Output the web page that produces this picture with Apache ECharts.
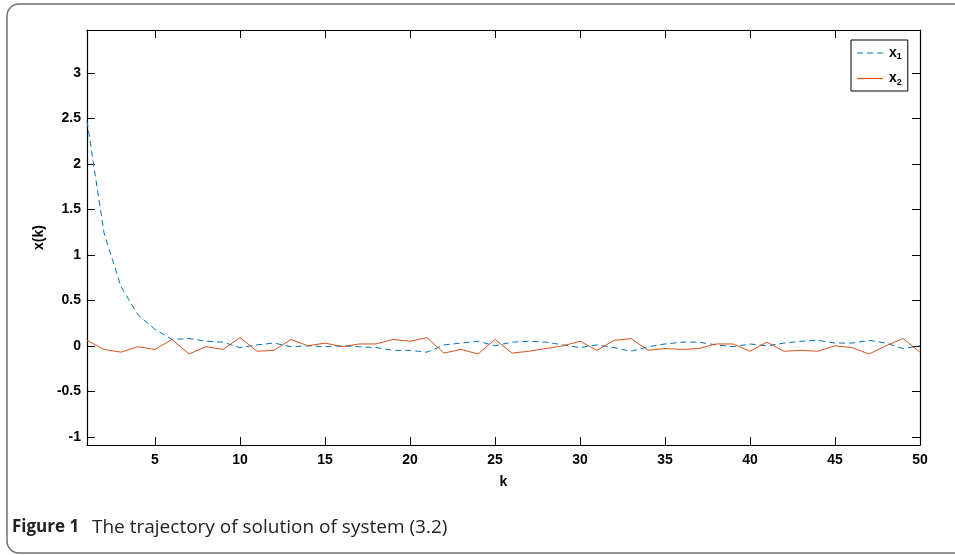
<!DOCTYPE html>
<html>
<head>
<meta charset="utf-8">
<script src="https://cdn.jsdelivr.net/npm/echarts@6/dist/echarts.min.js"></script>
<style>
  html, body { margin: 0; padding: 0; background: #fff; }
  #chart { width: 955px; height: 555px; }
</style>
</head>
<body>
<div id="chart"></div>
<script>
// k = 1..50
const kValues = [];
for (let i = 1; i <= 50; i++) kValues.push(i);

// x1 (dashed blue)
const x1 = [2.47, 1.24, 0.65, 0.34, 0.18, 0.07, 0.08, 0.05, 0.04, -0.02,
  0.01, 0.03, -0.01, 0.0, -0.01, 0.0, -0.01, -0.02, -0.05, -0.05,
  -0.07, 0.01, 0.03, 0.05, 0.0, 0.04, 0.05, 0.04, 0.01, -0.02,
  0.01, -0.02, -0.06, -0.01, 0.02, 0.04, 0.04, 0.01, -0.01, 0.02,
  0.0, 0.03, 0.05, 0.06, 0.03, 0.03, 0.06, 0.03, -0.03, 0.0];

// x2 (solid orange)
const x2 = [0.06, -0.04, -0.07, -0.01, -0.04, 0.07, -0.09, -0.01, -0.04, 0.09,
  -0.06, -0.05, 0.07, 0.0, 0.03, -0.01, 0.02, 0.02, 0.07, 0.05,
  0.09, -0.08, -0.04, -0.09, 0.07, -0.08, -0.06, -0.03, 0.0, 0.05,
  -0.05, 0.06, 0.08, -0.05, -0.03, -0.04, -0.03, 0.02, 0.02, -0.06,
  0.04, -0.06, -0.05, -0.06, 0.0, -0.02, -0.09, 0.0, 0.08, -0.07];

const xTicks = [5, 10, 15, 20, 25, 30, 35, 40, 45, 50];
const yTicks = [-1, -0.5, 0, 0.5, 1, 1.5, 2, 2.5, 3];

const chart = echarts.init(document.getElementById("chart"));

const axisFont = { fontFamily: "Liberation Sans", fontWeight: "bold", fontSize: 14, color: "#000" };

function xAxisDef(pos, showLabel) {
  return {
    type: "value",
    position: pos,
    min: 1,
    max: 50,
    axisLine: { show: true, onZero: false, lineStyle: { color: "#000", width: 1.2 } },
    axisTick: { show: true, inside: true, length: 8, customValues: xTicks, lineStyle: { color: "#000", width: 1 } },
    axisLabel: Object.assign({ show: showLabel, customValues: xTicks, margin: 8 }, axisFont),
    splitLine: { show: false },
  };
}
function yAxisDef(pos, showLabel) {
  return {
    type: "value",
    position: pos,
    min: -1.09,
    max: 3.47,
    axisLine: { show: true, onZero: false, lineStyle: { color: "#000", width: 1.2 } },
    axisTick: { show: true, inside: true, length: 8, customValues: yTicks, lineStyle: { color: "#000", width: 1 } },
    axisLabel: Object.assign({ show: showLabel, customValues: yTicks, margin: 6 }, axisFont),
    splitLine: { show: false },
  };
}

const xBottom = xAxisDef("bottom", true);
xBottom.name = "k";
xBottom.nameLocation = "middle";
xBottom.nameGap = 30;
xBottom.nameTextStyle = { fontFamily: "Liberation Sans", fontWeight: "bold", fontSize: 14, color: "#000" };

const yLeft = yAxisDef("left", true);
yLeft.name = "x(k)";
yLeft.nameLocation = "middle";
yLeft.nameGap = 36;
yLeft.nameTextStyle = { fontFamily: "Liberation Sans", fontWeight: "bold", fontSize: 14, color: "#000" };

// legend line samples (dashed / solid), no marker
const dashIcon = "path://M0,0h6v1.2h-6zM10,0h6v1.2h-6zM20,0h6v1.2h-6z";
const solidIcon = "path://M0,0h26v1.2h-26z";

const option = {
  animation: false,
  backgroundColor: "#fff",
  grid: { left: 87, right: 35, top: 30, bottom: 110, containLabel: false },
  xAxis: [xBottom, xAxisDef("top", false)],
  yAxis: [yLeft, yAxisDef("right", false)],
  legend: {
    orient: "vertical",
    left: 851,
    top: 40,
    padding: [6, 6, 4, 6],
    itemGap: 10,
    itemWidth: 28,
    itemHeight: 1.2,
    backgroundColor: "#fff",
    borderColor: "#000",
    borderWidth: 1,
    borderRadius: 0,
    data: [
      { name: "x1", icon: dashIcon },
      { name: "x2", icon: solidIcon },
    ],
    formatter: function (name) {
      return "{b|x}{s|" + name.slice(1) + "}";
    },
    textStyle: {
      rich: {
        b: { fontFamily: "Liberation Sans", fontWeight: "bold", fontSize: 14, color: "#000" },
        s: { fontFamily: "Liberation Sans", fontWeight: "bold", fontSize: 9, color: "#000", padding: [8, 0, 0, 0] },
      },
    },
  },
  series: [
    {
      name: "x1",
      type: "line",
      symbol: "none",
      data: kValues.map((k, i) => [k, x1[i]]),
      lineStyle: { color: "#0072BD", width: 1, type: [6, 4] },
      itemStyle: { color: "#0072BD" },
    },
    {
      name: "x2",
      type: "line",
      symbol: "none",
      data: kValues.map((k, i) => [k, x2[i]]),
      lineStyle: { color: "#D95319", width: 1 },
      itemStyle: { color: "#D95319" },
    },
  ],
  graphic: [
    {
      type: "rect",
      shape: { x: 7, y: 4, width: 970, height: 549, r: 12 },
      style: { fill: "none", stroke: "#6f6f6f", lineWidth: 1.5 },
      silent: true,
    },
    {
      type: "text",
      left: 12,
      top: 519,
      style: { text: "Figure 1", font: "bold 17px 'Open Sans'", fill: "#222" },
    },
    {
      type: "text",
      left: 92,
      top: 518,
      style: { text: "The trajectory of solution of system (3.2)", font: "19px 'Open Sans'", fill: "#222" },
    },
  ],
};

chart.setOption(option);
</script>
</body>
</html>
